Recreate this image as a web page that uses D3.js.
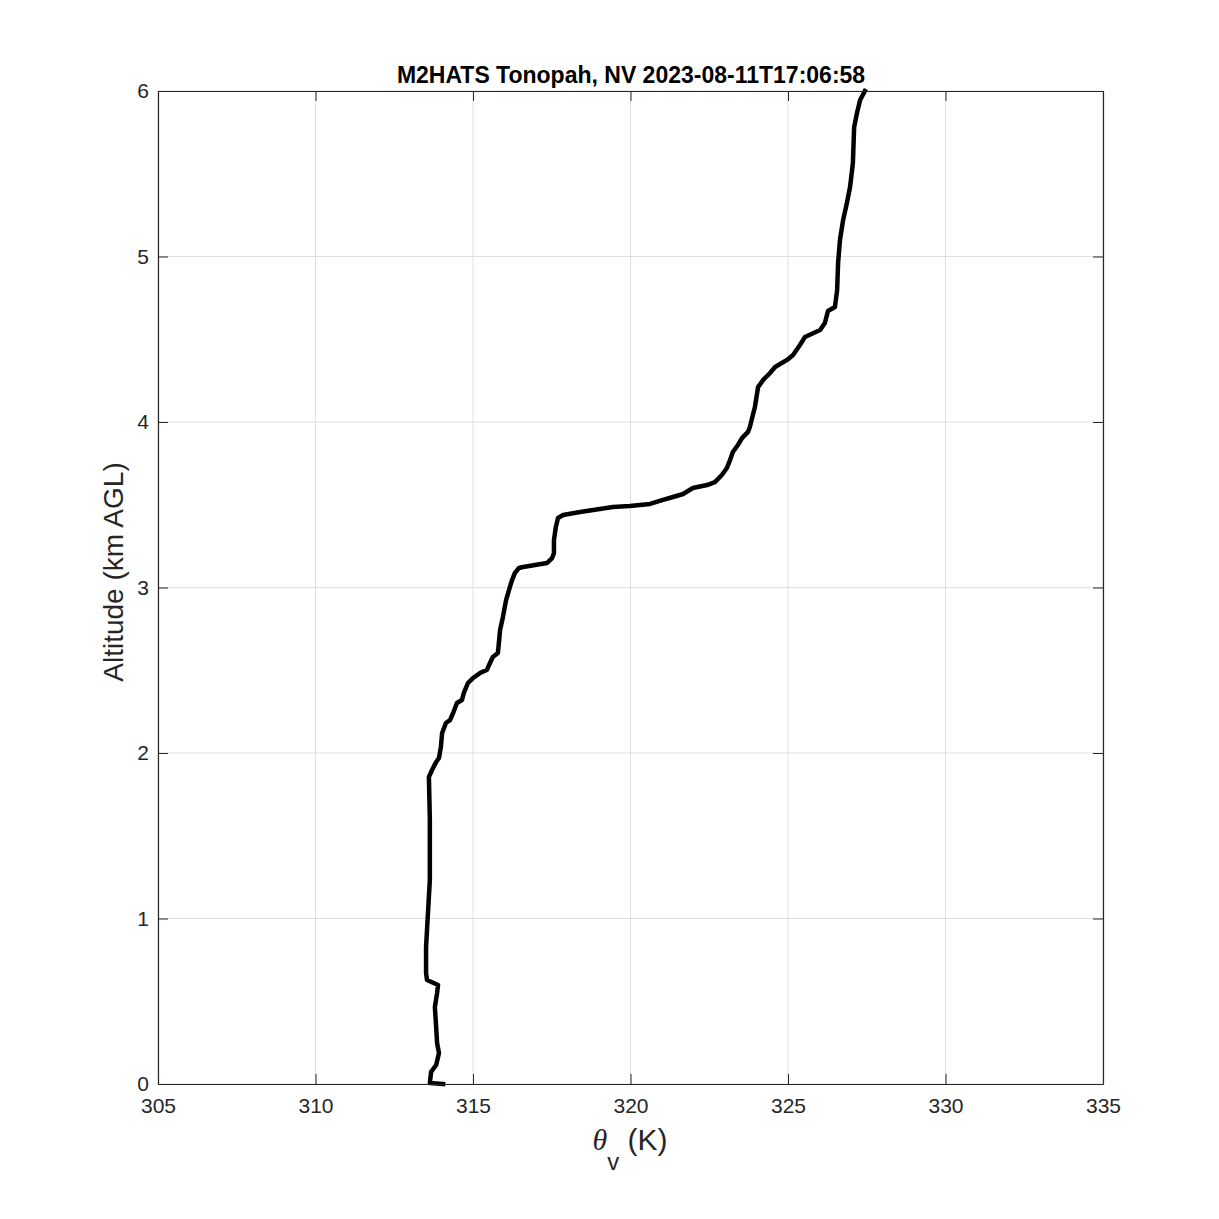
<!DOCTYPE html>
<html><head><meta charset="utf-8">
<script src="https://cdn.jsdelivr.net/npm/d3@7"></script>
<style>body{margin:0;background:#fff}svg{display:block}</style>
</head><body>
<script>
const xTicks = [305,310,315,320,325,330,335];
const yTicks = [0,1,2,3,4,5,6];
const thetaV = [314.05,313.63,313.67,313.83,313.92,313.86,313.83,313.79,313.86,313.89,313.54,313.51,313.51,313.54,313.57,313.63,313.63,313.63,313.60,313.70,313.83,313.92,313.98,314.02,314.14,314.27,314.37,314.49,314.65,314.71,314.84,315.00,315.22,315.44,315.54,315.63,315.79,315.83,315.86,315.95,316.05,316.17,316.24,316.33,316.46,316.59,317.35,317.51,317.57,317.57,317.63,317.70,317.86,318.40,319.44,319.98,320.62,321.03,321.35,321.67,321.98,322.43,322.68,322.90,323.06,323.16,323.25,323.41,323.54,323.73,323.79,323.86,323.95,324.05,324.21,324.43,324.59,324.97,325.16,325.38,325.54,326.02,326.17,326.27,326.49,326.56,326.59,326.65,326.75,326.87,326.97,327.06,327.10,327.19,327.29,327.44];
const altitude = [0.000,0.006,0.073,0.115,0.187,0.248,0.344,0.465,0.550,0.598,0.628,0.671,0.828,0.930,1.033,1.233,1.372,1.600,1.855,1.897,1.946,1.970,2.036,2.121,2.181,2.199,2.242,2.302,2.320,2.363,2.423,2.453,2.483,2.502,2.544,2.580,2.604,2.683,2.743,2.822,2.924,3.003,3.045,3.088,3.118,3.124,3.148,3.178,3.208,3.287,3.366,3.420,3.438,3.456,3.486,3.492,3.505,3.529,3.547,3.565,3.601,3.619,3.637,3.680,3.722,3.770,3.819,3.861,3.903,3.940,3.970,4.024,4.091,4.211,4.254,4.296,4.332,4.375,4.405,4.465,4.514,4.556,4.598,4.671,4.695,4.798,4.961,5.100,5.221,5.323,5.420,5.565,5.782,5.867,5.946,6.006];

const W=1219,H=1219, L=158,R=1103,T=91,B=1084;
const svg=d3.select("body").append("svg").attr("width",W).attr("height",H);
const x=d3.scaleLinear().domain([305,335]).range([L,R]);
const y=d3.scaleLinear().domain([0,6]).range([B,T]);
const font="'Liberation Sans', Arial, Helvetica, sans-serif";
const axC="#262626";

// grid
const g=svg.append("g");
g.selectAll(".gx").data(xTicks).join("line").attr("x1",d=>x(d)).attr("x2",d=>x(d)).attr("y1",T).attr("y2",B).attr("stroke","#dfdfdf").attr("stroke-width",1);
g.selectAll(".gy").data(yTicks).join("line").attr("y1",d=>y(d)).attr("y2",d=>y(d)).attr("x1",L).attr("x2",R).attr("stroke","#dfdfdf").attr("stroke-width",1);

// data line
const pts=thetaV.map((t,i)=>[t,altitude[i]]);
svg.append("path").datum(pts)
  .attr("d",d3.line().x(d=>x(d[0])).y(d=>y(Math.min(d[1],6))).curve(d3.curveLinear))
  .attr("fill","none").attr("stroke","#000").attr("stroke-width",4.5).attr("stroke-linejoin","round").attr("stroke-linecap","square");

// axes
const ax=svg.append("g").attr("font-family",font);
const xb=d3.axisBottom(x).tickValues(xTicks).tickSizeInner(-10).tickSizeOuter(0).tickPadding(14).tickFormat(d3.format("d"));
const gxb=ax.append("g").attr("transform",`translate(0,${B})`).call(xb);
const xt=d3.axisTop(x).tickValues(xTicks).tickSizeInner(-10).tickSizeOuter(0).tickFormat("");
const gxt=ax.append("g").attr("transform",`translate(0,${T})`).call(xt);
const yl=d3.axisLeft(y).tickValues(yTicks).tickSizeInner(-10).tickSizeOuter(0).tickPadding(9).tickFormat(d3.format("d"));
const gyl=ax.append("g").attr("transform",`translate(${L},0)`).call(yl);
const yr=d3.axisRight(y).tickValues(yTicks).tickSizeInner(-10).tickSizeOuter(0).tickFormat("");
const gyr=ax.append("g").attr("transform",`translate(${R},0)`).call(yr);
[gxb,gxt,gyl,gyr].forEach(s=>{
  s.selectAll("path").attr("stroke",axC).attr("stroke-width",1.2);
  s.selectAll("line").attr("stroke",axC).attr("stroke-width",1);
  s.selectAll("text").attr("fill",axC).attr("font-size",21).attr("font-family",font);
});

// title
svg.append("text").attr("x",631).attr("y",83).attr("text-anchor","middle")
  .attr("font-family",font).attr("font-weight","bold").attr("font-size",23).attr("fill","#000")
  .text("M2HATS Tonopah, NV 2023-08-11T17:06:58");

// y label
svg.append("text").attr("transform",`translate(123,572) rotate(-90)`).attr("text-anchor","middle")
  .attr("font-family",font).attr("font-size",28).attr("fill",axC).text("Altitude (km AGL)");

// x label
const xl=svg.append("text").attr("x",630).attr("y",1150).attr("text-anchor","middle")
  .attr("font-family",font).attr("font-size",30).attr("fill",axC);
xl.append("tspan").attr("font-family","'Liberation Serif', 'Times New Roman', serif").attr("font-style","italic").text("θ");
xl.append("tspan").attr("font-size",24).attr("dy",20).text("v");
xl.append("tspan").attr("dy",-20).text(" (K)");
</script>
</body></html>
